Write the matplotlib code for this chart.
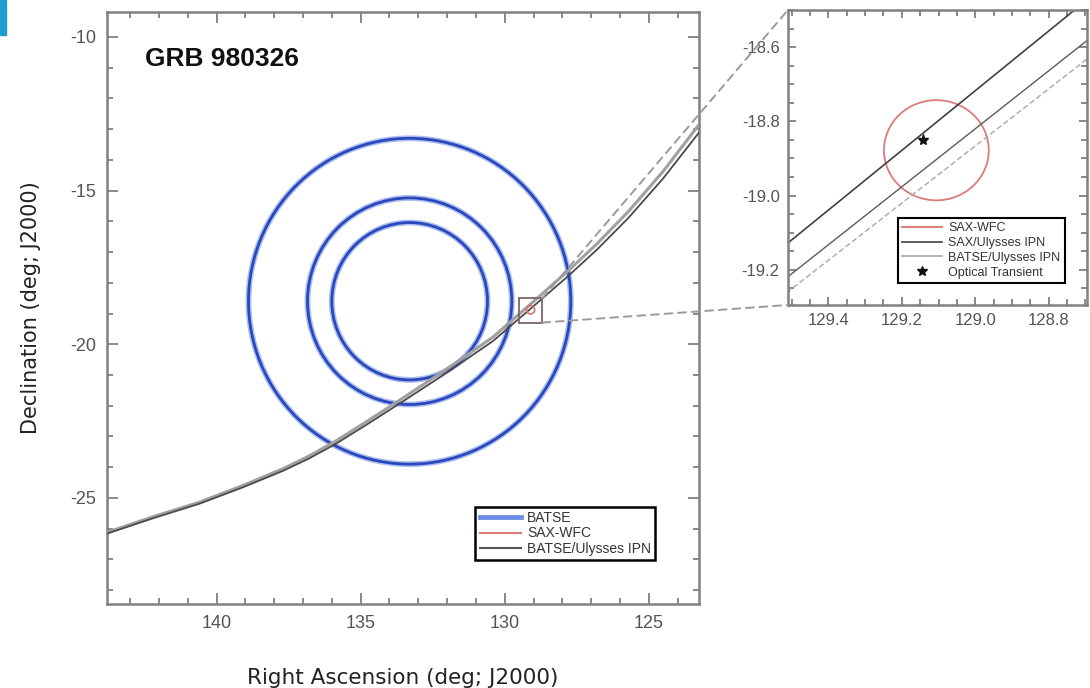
import matplotlib as mpl
mpl.use('Agg')

import matplotlib.pyplot as plt
from matplotlib.patches import Ellipse, Rectangle, ConnectionPatch
from matplotlib.ticker import MultipleLocator, FormatStrFormatter
import numpy as np

plt.rcParams['font.family'] = ['Liberation Sans', 'DejaVu Sans']
plt.rcParams['axes.unicode_minus'] = False

# BATSE error circles (deg on the sky)
batse_center = (133.3, -18.6)
batse_radii = [5.3, 3.36, 2.56]

# SAX-WFC error circle and optical transient
wfc_center = (129.106, -18.878)
wfc_radius = 0.135
ot_ra, ot_dec = 129.142, -18.851

# BATSE/Ulysses IPN annulus edges, wide view
ipn_ra = [143.8, 142.2, 140.6, 139.1, 137.7, 136.8, 135.9, 134.8, 133.6,
          132.0, 130.4, 129.1, 127.8, 126.8, 125.7, 124.5, 123.2]
ipn_dec_a = [-26.16, -25.66, -25.19, -24.66, -24.12, -23.72, -23.26, -22.62, -21.90,
             -20.92, -19.89, -18.84, -17.78, -16.92, -15.88, -14.60, -13.04]
ipn_dec_b = [-26.12, -25.61, -25.14, -24.60, -24.05, -23.64, -23.17, -22.52, -21.79,
             -20.80, -19.76, -18.69, -17.61, -16.73, -15.67, -14.37, -12.78]

# zoomed view: IPN lines
zoom_ra = [129.55, 128.68]
sax_ipn_a = [-19.16, -18.46]
sax_ipn_b = [-19.25, -18.57]
batse_ipn = [-19.29, -18.62]

# zoom window
zoom_xlim = (129.51, 128.696)
zoom_ylim = (-19.295, -18.5)

spine_col = '#808080'


def style_axes(ax, major, minor, fmt, size):
  ax.xaxis.set_major_locator(MultipleLocator(major))
  ax.xaxis.set_minor_locator(MultipleLocator(minor))
  ax.yaxis.set_major_locator(MultipleLocator(major))
  ax.yaxis.set_minor_locator(MultipleLocator(minor))
  ax.xaxis.set_major_formatter(FormatStrFormatter(fmt))
  ax.yaxis.set_major_formatter(FormatStrFormatter(fmt))
  ax.tick_params(which='both', direction='in', top=True, right=True,
                 colors=spine_col, labelcolor='#555555', labelsize=size, width=1.3)
  ax.tick_params(which='major', length=8, pad=8)
  ax.tick_params(which='minor', length=4)
  for s in ax.spines.values():
    s.set_color(spine_col)
    s.set_linewidth(1.8)


def sky_circle(center, r, **kw):
  w = 2 * r / np.cos(np.radians(center[1]))
  return Ellipse(center, w, 2 * r, fill=False, **kw)


fig = plt.figure(figsize=(10.9, 6.88), dpi=100)
ax = fig.add_axes([0.0982, 0.1221, 0.5431, 0.8605])

for r in batse_radii:
  ax.add_patch(sky_circle(batse_center, r, edgecolor='#a9bdf0', lw=4.2, zorder=2))
  ax.add_patch(sky_circle(batse_center, r, edgecolor='#2a48bc', lw=2.0, zorder=3))

ax.plot(ipn_ra, ipn_dec_b, color='#a0a0a0', lw=2.2, zorder=4)
ax.plot(ipn_ra, ipn_dec_a, color='#4a4a4a', lw=1.3, zorder=5)
ax.add_patch(sky_circle(wfc_center, wfc_radius, edgecolor='#d87070', lw=1.2, zorder=6))

box = Rectangle((zoom_xlim[1], zoom_ylim[0]), zoom_xlim[0] - zoom_xlim[1],
                zoom_ylim[1] - zoom_ylim[0], fill=False, edgecolor='#806565', lw=1.3, zorder=7)
ax.add_patch(box)

ax.set_xlim(143.8, 123.26)
ax.set_ylim(-28.45, -9.19)
style_axes(ax, 5, 1, '%d', 13)
ax.set_xlabel('Right Ascension (deg; J2000)', family='DejaVu Sans', fontsize=15.5,
              color='#222222', labelpad=26)
ax.set_ylabel('Declination (deg; J2000)', family='DejaVu Sans', fontsize=15,
              color='#222222', labelpad=21)
ax.text(0.064, 0.94, 'GRB 980326', transform=ax.transAxes, fontsize=19,
        fontweight='bold', va='top', ha='left', color='#111111')

h1, = ax.plot([], [], color='#6f8fe6', lw=3.5, label='BATSE')
h2, = ax.plot([], [], color='#e07a7a', lw=1.5, label='SAX-WFC')
h3, = ax.plot([], [], color='#555555', lw=1.5, label='BATSE/Ulysses IPN')
leg = ax.legend(handles=[h1, h2, h3], loc='lower right', bbox_to_anchor=(0.9257, 0.0743),
                borderaxespad=0, fontsize=10, labelspacing=0.1, handlelength=3.0,
                handletextpad=0.4, borderpad=0.3, fancybox=False, framealpha=1)
leg.get_frame().set_edgecolor('black')
leg.get_frame().set_linewidth(1.8)
for t in leg.get_texts():
  t.set_color('#333333')

# zoomed panel
axin = fig.add_axes([0.7229, 0.5567, 0.2743, 0.4288])
axin.add_patch(sky_circle(wfc_center, wfc_radius, edgecolor='#dd7a7a', lw=1.3))
axin.plot(zoom_ra, sax_ipn_a, color='#404040', lw=1.2)
axin.plot(zoom_ra, sax_ipn_b, color='#5a5a5a', lw=1.0)
axin.plot(zoom_ra, batse_ipn, color='#a8a8a8', lw=1.0, ls=(0, (4, 2)))
axin.plot([ot_ra], [ot_dec], marker='*', color='#111111', ms=8, ls='none')
axin.set_xlim(*zoom_xlim)
axin.set_ylim(*zoom_ylim)
style_axes(axin, 0.2, 0.05, '%.1f', 12)
axin.tick_params(which='major', length=6, pad=6)
axin.tick_params(which='minor', length=4)

g1, = axin.plot([], [], color='#dd8080', lw=1.5, label='SAX-WFC')
g2, = axin.plot([], [], color='#404040', lw=1.2, label='SAX/Ulysses IPN')
g3, = axin.plot([], [], color='#a8a8a8', lw=1.2, label='BATSE/Ulysses IPN')
g4, = axin.plot([], [], marker='*', color='#111111', ms=7, ls='none', label='Optical Transient')
leg2 = axin.legend(handles=[g1, g2, g3, g4], loc='lower right', bbox_to_anchor=(0.926, 0.0746),
                   borderaxespad=0, fontsize=9, labelspacing=0.22, handlelength=3.2,
                   handletextpad=0.5, borderpad=0.35, fancybox=False, framealpha=1)
leg2.get_frame().set_edgecolor('black')
leg2.get_frame().set_linewidth(1.5)
for t in leg2.get_texts():
  t.set_color('#333333')

# dashed connectors from the box to the zoomed panel
for ya, yb in [(zoom_ylim[1], 1), (zoom_ylim[0], 0)]:
  con = ConnectionPatch(xyA=(zoom_xlim[1], ya), coordsA=ax.transData,
                        xyB=(0, yb), coordsB=axin.transAxes,
                        color='#9a9a9a', lw=1.4, ls=(0, (4, 3)))
  fig.add_artist(con)

fig.patches.append(Rectangle((0, 1 - 35 / 688), 6 / 1090, 35 / 688,
                             transform=fig.transFigure, color='#1f9ccf'))

fig.savefig('out.png', dpi=100)
